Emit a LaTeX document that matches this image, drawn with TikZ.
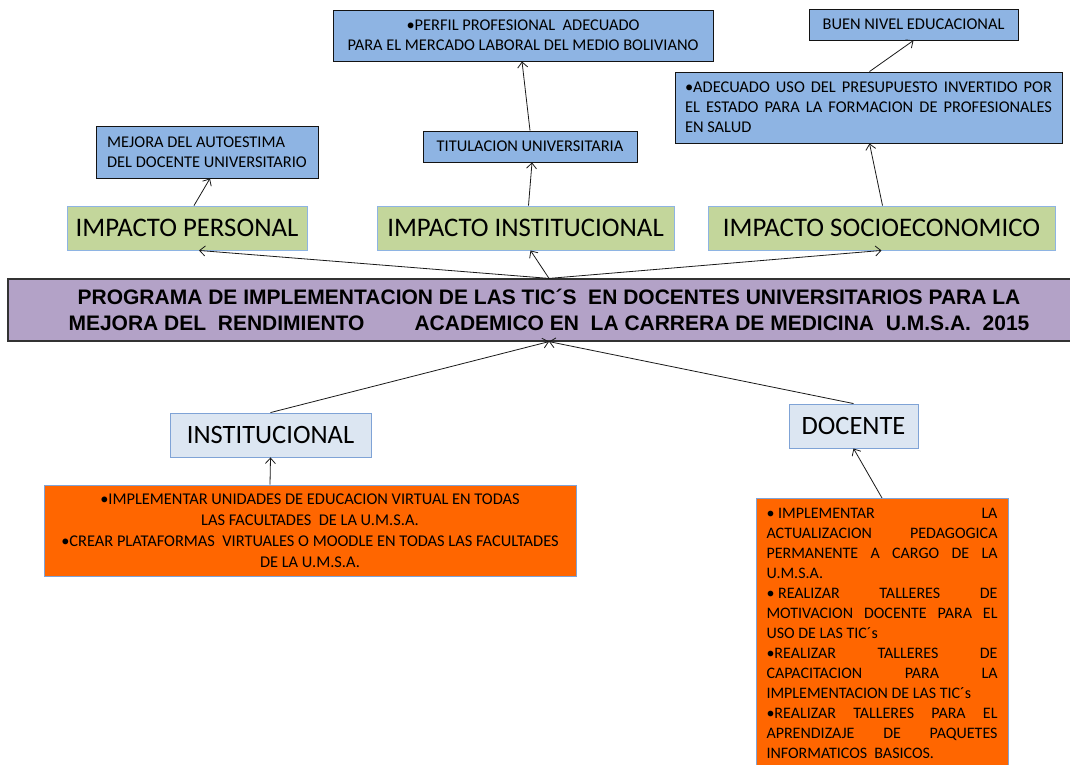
\documentclass[tikz,border=0pt]{standalone}
\usepackage{fontspec}
\setmainfont{Carlito}
\newfontfamily\angosta[FakeStretch = 1.0]{Liberation Sans}
\usetikzlibrary{arrows.meta}
\definecolor{azulcaja}{HTML}{8EB4E3}
\definecolor{verdecaja}{HTML}{C3D69B}
\definecolor{lila}{HTML}{B3A2C7}
\definecolor{celeste}{HTML}{DCE6F2}
\definecolor{bordeazul}{HTML}{7FA3D6}
\definecolor{naranja}{HTML}{FF6600}
\newcommand{\linea}[1]{\makebox[\linewidth][s]{#1}}
\begin{document}
\begin{tikzpicture}[
  x = 1pt, y = -1pt,
  flecha/.style = {-{Straight Barb[length = 5.5pt, width = 10pt]}, line width = .8, draw = gray!20!black},
  caja/.style = {draw = gray!15!black, fill = azulcaja, line width = .9, inner sep = 0,
    font = \fontsize{16.4}{20}\selectfont},
  impacto/.style = {draw = azulcaja, fill = verdecaja, line width = .9, inner sep = 0,
    minimum height = 44, font = \fontsize{26.8}{30}\selectfont},
  eje/.style = {draw = bordeazul, fill = celeste, line width = .9, inner sep = 0,
    minimum height = 44, font = \fontsize{26.5}{30}\selectfont},
  accion/.style = {draw = bordeazul, fill = naranja, line width = .9, inner sep = 0,
    font = \fontsize{16.4}{21}\selectfont}
]
\useasboundingbox (0, 0) rectangle (1070, 764);
% resultados esperados
\node[caja, minimum width = 380, minimum height = 51, align = center] (perfil) at (523, 35.5)
  {•PERFIL PROFESIONAL\ \ ADECUADO\\PARA EL MERCADO LABORAL DEL MEDIO BOLIVIANO};
\node[caja, minimum width = 209, minimum height = 31] (nivel) at (913.5, 24.5) {BUEN NIVEL EDUCACIONAL};
\node[caja, minimum width = 387, minimum height = 71] (presupuesto) at (868.5, 107.5)
  {\parbox{367pt}{\linea{•ADECUADO USO DEL PRESUPUESTO INVERTIDO POR}\\
   \linea{EL ESTADO PARA LA FORMACION DE PROFESIONALES}\\EN SALUD}};
\node[caja, minimum width = 222, minimum height = 52, align = left] (mejora) at (207, 152)
  {MEJORA DEL AUTOESTIMA\\DEL DOCENTE UNIVERSITARIO};
\node[caja, minimum width = 214, minimum height = 31] (titulacion) at (530, 146.5) {TITULACION UNIVERSITARIA};
% impactos
\node[impacto, minimum width = 240] (personal) at (187, 228) {IMPACTO PERSONAL};
\node[impacto, minimum width = 297] (institucional) at (525.5, 228) {IMPACTO INSTITUCIONAL};
\node[impacto, minimum width = 347] (socioeconomico) at (881.5, 228) {IMPACTO SOCIOECONOMICO};
% programa
\node[draw = gray!40!black, fill = lila, line width = 1.2, minimum width = 1082, minimum height = 62,
  inner sep = 0, align = center, font = \angosta\bfseries\fontsize{21}{25.5}\selectfont] (programa) at (549, 310)
  {PROGRAMA DE IMPLEMENTACION DE LAS TIC´S\ \ EN DOCENTES UNIVERSITARIOS PARA LA\\
   MEJORA DEL\ \ RENDIMIENTO\hspace{50pt}ACADEMICO EN\ \ LA CARRERA DE MEDICINA\ \ U.M.S.A.\ \ 2015};
% ejes y acciones
\node[eje, minimum width = 201] (instit) at (270.5, 435) {INSTITUCIONAL};
\node[eje, minimum width = 129] (docente) at (853.5, 426) {DOCENTE};
\node[accion, minimum width = 532, minimum height = 91, align = center] (accinst) at (310, 530.5)
  {•IMPLEMENTAR UNIDADES\ DE EDUCACION VIRTUAL\ EN TODAS\\LAS FACULTADES\ \ DE LA U.M.S.A.\\
   •CREAR PLATAFORMAS\ \ VIRTUALES O MOODLE EN TODAS LAS FACULTADES\\DE LA U.M.S.A.};
\node[accion, anchor = north, inner xsep = 10.5, inner ysep = 10, font = \fontsize{16}{20}\selectfont]
  (accdoc) at (882, 498)
  {\parbox[c][270pt][t]{231pt}{\linea{\mbox{• IMPLEMENTAR} LA}\\
   \linea{ACTUALIZACION PEDAGOGICA}\\
   \linea{PERMANENTE A CARGO DE LA}\\
   U.M.S.A.\\
   \linea{\mbox{• REALIZAR} TALLERES DE}\\
   \linea{MOTIVACION DOCENTE PARA EL}\\
   USO DE LAS TIC´s\\
   \linea{•REALIZAR TALLERES DE}\\
   \linea{CAPACITACION PARA LA}\\
   IMPLEMENTACION DE LAS TIC´s\\
   \linea{•REALIZAR TALLERES PARA EL}\\
   \linea{APRENDIZAJE DE PAQUETES}\\
   INFORMATICOS\ \ BASICOS.}};
% conectores
\draw[flecha] (programa.north) -- ([xshift = 12]personal.south);
\draw[flecha] (programa.north) -- ([xshift = 5]institucional.south);
\draw[flecha] (programa.north) -- ([xshift = 0]socioeconomico.south);
\draw[flecha] ([xshift = 7]personal.north) -- ([xshift = 3]mejora.south);
\draw[flecha] ([xshift = 3]institucional.north) -- ([xshift = 2]titulacion.south);
\draw[flecha] (titulacion.north) -- ([xshift = -1]perfil.south);
\draw[flecha] ([xshift = 1]socioeconomico.north) -- ([xshift = 1]presupuesto.south);
\draw[flecha] ([xshift = 1]presupuesto.north) -- ([xshift = 0]nivel.south);
\draw[flecha] (instit.north) -- (programa.south);
\draw[flecha] (docente.north) -- (programa.south);
\draw[flecha] ([xshift = -40]accinst.north) -- (instit.south);
\draw[flecha] (accdoc.north) -- (docente.south);
\end{tikzpicture}
\end{document}
